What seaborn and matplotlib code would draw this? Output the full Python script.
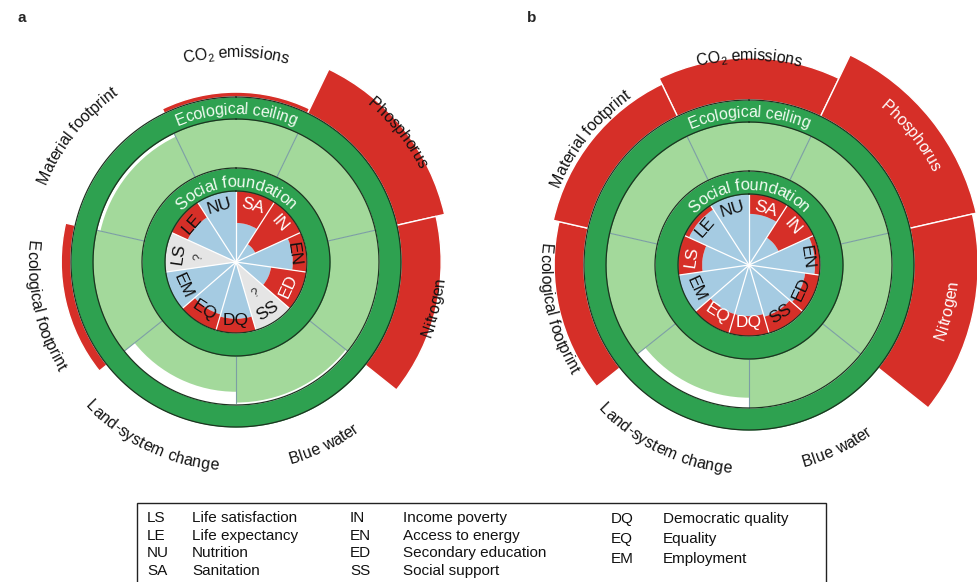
import numpy as np
import matplotlib
matplotlib.use("Agg")
import matplotlib.pyplot as plt
import seaborn as sns
from matplotlib import font_manager
from matplotlib.font_manager import FontProperties
from matplotlib.patches import Rectangle

# ---------------- data ----------------
social_codes = ["SA", "IN", "EN", "ED", "SS", "DQ", "EQ", "EM", "LS", "LE", "NU"]
social_a = [0.55, 0.30, 0.80, 0.50, np.nan, 0.80, 0.77, 1.00, np.nan, 0.75, 1.00]
social_b = [0.72, 0.46, 0.93, 0.80, 0.76, 0.72, 0.72, 1.00, 0.66, 0.93, 1.00]

eco_names = ["CO2 emissions", "Phosphorus", "Nitrogen", "Blue water",
             "Land-system change", "Ecological footprint", "Material footprint"]
eco_a = [1.10, 2.00, 1.82, 0.95, 0.73, 1.20, 0.92]
eco_b = [1.86, 2.39, 2.31, 1.00, 0.79, 1.61, 1.73]

panel_letters = ["a", "b"]

legend_codes_1 = ["LS", "LE", "NU", "SA"]
legend_names_1 = ["Life satisfaction", "Life expectancy", "Nutrition", "Sanitation"]
legend_codes_2 = ["IN", "EN", "ED", "SS"]
legend_names_2 = ["Income poverty", "Access to energy", "Secondary education", "Social support"]
legend_codes_3 = ["DQ", "EQ", "EM"]
legend_names_3 = ["Democratic quality", "Equality", "Employment"]

# ---------------- style ----------------
sns.set_theme(style="white")
plt.rcParams["font.family"] = ["Liberation Sans", "DejaVu Sans"]

DGREEN = "#2ea150"
LGREEN = "#a3d99b"
RED = "#d62f28"
BLUE = "#a5cbe2"
GREY = "#e5e5e5"
DIV = "#7c9ea4"
EDGE = "#1d3320"
RINGTXT = "#f2fcf2"

R_SOC_IN, R_SOC_OUT = 71, 94
R_CEIL_IN, R_CEIL_OUT = 143, 165
SCALE = 49.0
RMAX = 250

W, H = 978, 582
fig = plt.figure(figsize=(W / 100, H / 100), dpi=100)
renderer = fig.canvas.get_renderer()


def char_w(ch, prop):
    w3 = renderer.get_text_width_height_descent("x" + ch + "x", prop, ismath=False)[0]
    w2 = renderer.get_text_width_height_descent("xx", prop, ismath=False)[0]
    return w3 - w2


def is_bottom(theta_deg):
    t = theta_deg % 360
    return 90 < t < 270


def arc_text(ax, segments, r_base, theta_c, color, weight="normal"):
    bottom = is_bottom(theta_c)
    items = []
    for txt, fs, dy in segments:
        prop = FontProperties(family=["Liberation Sans", "DejaVu Sans"], size=fs, weight=weight)
        for ch in txt:
            items.append((ch, prop, char_w(ch, prop), dy))
    total = sum(it[2] for it in items)
    r_mid = r_base - 4 if bottom else r_base + 4
    s = -total / 2
    for ch, prop, w, dy in items:
        mid = s + w / 2
        s += w
        dth = np.degrees(mid / r_mid)
        if bottom:
            th = theta_c - dth
            rot = 180 - th
            rr = r_base - dy
        else:
            th = theta_c + dth
            rot = -th
            rr = r_base + dy
        if ch == " ":
            continue
        ax.text(np.radians(th), rr, ch, fontproperties=prop, color=color,
                rotation=rot, rotation_mode="anchor", ha="center", va="baseline")


def segs_for(name, fs):
    if name.startswith("CO2"):
        return [("CO", fs, 0), ("2", fs * 0.68, -3.5), (name[3:], fs, 0)]
    return [(name, fs, 0)]


def draw_panel(ax, social, eco):
    ax.set_theta_zero_location("N")
    ax.set_theta_direction(-1)
    ax.set_ylim(0, RMAX)
    ax.axis("off")

    # ---- social foundation wedges ----
    n = len(social_codes)
    w = 2 * np.pi / n
    th = np.arange(n) * w + w / 2
    vals = np.array(social, dtype=float)
    miss = np.isnan(vals)
    blue_h = np.where(miss, 0.0, vals * R_SOC_IN)
    ok = ~miss
    ax.bar(th[ok], blue_h[ok], width=w, bottom=0, color=BLUE, linewidth=0)
    ax.bar(th[ok], R_SOC_IN - blue_h[ok], width=w, bottom=blue_h[ok], color=RED, linewidth=0)
    ax.bar(th[miss], np.full(miss.sum(), R_SOC_IN), width=w, bottom=0, color=GREY, linewidth=0)
    for k in range(n):
        ax.plot([k * w, k * w], [0, R_SOC_IN], color="white", lw=0.9)

    # ---- ecological wedges ----
    m = len(eco_names)
    we = 2 * np.pi / m
    the = np.arange(m) * we
    ev = np.array(eco, dtype=float)
    green_top = R_SOC_OUT + np.minimum(ev, 1.0) * (R_CEIL_IN - R_SOC_OUT)
    ax.bar(the, green_top - R_SOC_OUT, width=we, bottom=R_SOC_OUT, color=LGREEN, linewidth=0)
    over = ev > 1
    ax.bar(the[over], (ev[over] - 1) * SCALE, width=we, bottom=R_CEIL_OUT,
           color=RED, edgecolor="white", linewidth=1.0)
    for k in range(m):
        a = (k - 0.5) * we
        rtop = max(green_top[k], green_top[k - 1])
        ax.plot([a, a], [R_SOC_OUT, rtop], color=DIV, lw=0.8)

    # ---- rings ----
    t = np.linspace(0, 2 * np.pi, 721)
    ax.fill_between(t, R_CEIL_IN, R_CEIL_OUT, color=DGREEN, linewidth=0)
    ax.fill_between(t, R_SOC_IN, R_SOC_OUT, color=DGREEN, linewidth=0)
    for r in (R_SOC_IN, R_SOC_OUT, R_CEIL_IN, R_CEIL_OUT):
        ax.plot(t, np.full_like(t, r), color=EDGE, lw=0.9)

    arc_text(ax, [("Ecological ceiling", 11.5, 0)], 148, 0, RINGTXT)
    arc_text(ax, [("Social foundation", 12, 0)], 75, 0, RINGTXT)

    # ---- social labels ----
    for k, code in enumerate(social_codes):
        tdeg = np.degrees(th[k])
        rot = 180 - tdeg if is_bottom(tdeg) else -tdeg
        v = vals[k]
        col = "white" if (not np.isnan(v) and v < 0.74) else "#111111"
        ax.text(th[k], 58, code, fontsize=12.5, color=col, rotation=rot,
                rotation_mode="anchor", ha="center", va="center")
        if np.isnan(v):
            ax.text(th[k], 37, "?", fontsize=9, color="#333333", rotation=rot,
                    rotation_mode="anchor", ha="center", va="center")

    # ---- ecological labels ----
    for k, name in enumerate(eco_names):
        tdeg = np.degrees(the[k])
        bottom = is_bottom(tdeg)
        r_base = 209 if bottom else 205
        label_outer = r_base if bottom else r_base + 11
        r_out = R_CEIL_OUT + (ev[k] - 1) * SCALE if ev[k] > 1 else 0
        col = "white" if r_out > label_outer + 8 else "#111111"
        arc_text(ax, segs_for(name, 11.5), r_base, tdeg, col)


centers = [(236, 262), (749, 265)]
datasets = [(social_a, eco_a), (social_b, eco_b)]
for (cx, cy), (soc, eco) in zip(centers, datasets):
    ax = fig.add_axes([(cx - RMAX) / W, (H - cy - RMAX) / H, 2 * RMAX / W, 2 * RMAX / H],
                      projection="polar")
    draw_panel(ax, soc, eco)

fig.text(18 / W, 1 - 18 / H, panel_letters[0], fontsize=11, weight="bold", va="center", ha="left")
fig.text(527 / W, 1 - 18 / H, panel_letters[1], fontsize=11, weight="bold", va="center", ha="left")

# ---------------- legend box ----------------
names_avail = {f.name for f in font_manager.fontManager.ttflist}
if "Liberation Sans Narrow" in names_avail:
    LEG_FAM, LEG_FS = ["Liberation Sans Narrow", "DejaVu Sans"], 13.5
else:
    LEG_FAM, LEG_FS = ["Liberation Sans", "DejaVu Sans"], 11

box = Rectangle((137 / W, -0.1), (826 - 137) / W, 0.1 + (582 - 503) / H,
                transform=fig.transFigure, fill=False, edgecolor="#222222", linewidth=1.0)
fig.add_artist(box)

cols = [
    (legend_codes_1, legend_names_1, 147, 192, [518, 536, 553, 571]),
    (legend_codes_2, legend_names_2, 350, 403, [518, 536, 553, 571]),
    (legend_codes_3, legend_names_3, 611, 663, [519, 539, 559]),
]
for codes, names, xc, xn, ys in cols:
    for c, nm, y in zip(codes, names, ys):
        fig.text(xc / W, 1 - y / H, c, family=LEG_FAM, fontsize=LEG_FS, va="center", ha="left", color="#111111")
        fig.text(xn / W, 1 - y / H, nm, family=LEG_FAM, fontsize=LEG_FS, va="center", ha="left", color="#111111")

fig.savefig("out.png", dpi=100)
